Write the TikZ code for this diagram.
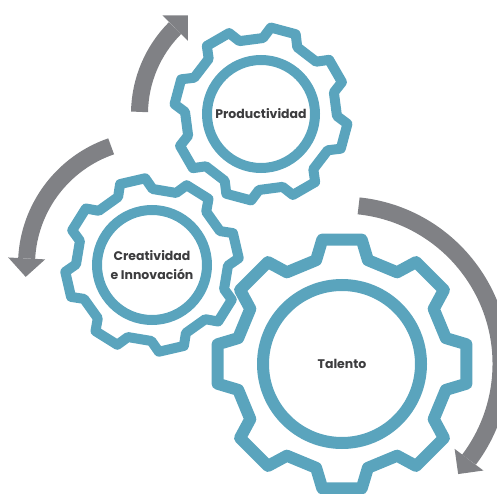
\documentclass[tikz,border=0pt]{standalone}
\usepackage{fontspec}
\setmainfont{Poppins}[BoldFont={Poppins Bold}]
\usetikzlibrary{calc}
\definecolor{gearblue}{RGB}{90,164,189}
\definecolor{arrowgray}{RGB}{128,129,133}
\definecolor{textgray}{RGB}{60,60,62}
\tikzset{
  gear/.style={draw=gearblue, line width=10pt, line join=round},
  hub/.style={draw=gearblue, line width=10pt},
  gearlabel/.style={text=textgray, font=\fontsize{12.5}{19}\selectfont\bfseries, align=center},
  band/.style={draw=arrowgray, line width=17pt},
  headfill/.style={fill=arrowgray}
}

\begin{document}
\begin{tikzpicture}[x=1pt,y=1pt]
\useasboundingbox (0,0) rectangle (497,493);
\node[gearlabel] (prod) at (261,379) {Productividad};
\node[gearlabel] (crea) at (152,228) {Creatividad\\e Innovación};
\node[gearlabel] (tal) at (342,129) {Talento};

\draw[gear, shift={(prod)}] (16.5:76) \foreach \a in {30,75,...,345} { -- ({\a-13.5}:76) -- ({\a-8.5}:87) -- ({\a+8.5}:87) -- ({\a+13.5}:76) } -- cycle;
\draw[gear, shift={(crea)}] (-0.5:76) \foreach \a in {13,58,...,328} { -- ({\a-13.5}:76) -- ({\a-8.5}:87) -- ({\a+8.5}:87) -- ({\a+13.5}:76) } -- cycle;
\draw[gear, line width=12pt, shift={(tal)}] (-14:107) \foreach \a in {0,45,...,315} { -- ({\a-14}:107) -- ({\a-9}:126) -- ({\a+9}:126) -- ({\a+14}:107) } -- cycle;
\draw[hub] (prod) circle[radius=54];
\draw[hub] (crea) circle[radius=55];
\draw[hub, line width=12pt] (tal) circle[radius=79];

\draw[band] ($(prod)+(179:121.5)$) arc[start angle=179, end angle=135, radius=121.5];
\fill[headfill] ($(prod)+(135:103.5)$) -- ($(prod)+(135:139.5)$) -- ($(prod)+(135:121.5)+(45:18)$) -- cycle;
\draw[band] ($(crea)+(109:125.5)$) arc[start angle=109, end angle=177, radius=125.5];
\fill[headfill] ($(crea)+(177:107)$) -- ($(crea)+(177:144)$) -- ($(crea)+(177:125.5)+(267:18.5)$) -- cycle;
\draw[band] ($(tal)+(84:159)$) arc[start angle=84, end angle=-37, radius=159];
\fill[headfill] ($(tal)+(-37:141)$) -- ($(tal)+(-37:177)$) -- ($(tal)+(-37:159)+(-127:18)$) -- cycle;
\end{tikzpicture}
\end{document}
